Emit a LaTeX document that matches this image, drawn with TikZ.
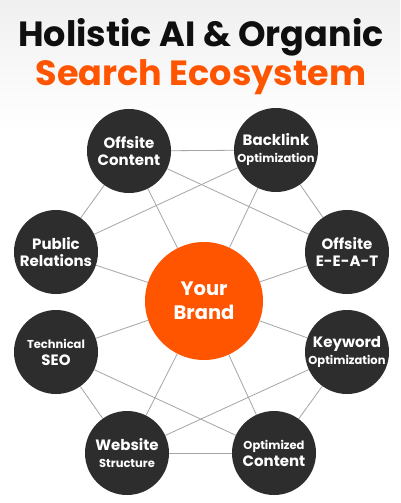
\documentclass[tikz,border=0pt]{standalone}
\usepackage{fontspec}
\setmainfont{Poppins}
\usetikzlibrary{positioning}
\definecolor{brandorange}{RGB}{255,85,0}
\definecolor{hubdark}{RGB}{45,45,45}
\definecolor{linkgray}{RGB}{165,165,165}
\definecolor{titleblack}{RGB}{15,15,15}
\pgfdeclarelayer{back}
\pgfdeclarelayer{edges}
\pgfsetlayers{back,edges,main}
\newcommand{\bigline}[1]{{\fontsize{15}{17}\selectfont #1}}
\newcommand{\smallline}[1]{{\fontsize{11.5}{17}\selectfont #1}}

\begin{document}
\begin{tikzpicture}[x=1pt,y=-1pt,
  hub/.style={circle,fill=hubdark,minimum size=84pt,inner sep=0pt,
    text=white,font=\bfseries\fontsize{10}{17}\selectfont,align=center},
  brand/.style={circle,fill=brandorange,minimum size=118pt,inner sep=0pt,
    text=white,font=\bfseries\fontsize{19.5}{24}\selectfont,align=center},
  link/.style={draw=linkgray,line width=0.8pt}]
  \useasboundingbox (0,0) rectangle (400,503);
  % Backdrop
  \begin{pgfonlayer}{back}
    \fill[white] (0,0) rectangle (400,503);
    \shade[top color=gray!12,bottom color=white] (0,0) rectangle (400,130);
  \end{pgfonlayer}
  % Title
  \node[font=\bfseries\fontsize{35}{40}\selectfont,text=titleblack] (title) at (201,37) {Holistic AI \& Organic};
  \node[font=\bfseries\fontsize{35}{40}\selectfont,text=brandorange] (subtitle) at (201,77) {Search Ecosystem};
  % Center and ring
  \node[brand] (yb) at (204,301) {Your\\Brand};
  \node[hub] (oc) at (129,151) {\bigline{Offsite}\\\bigline{Content}};
  \node[hub] (bo) at (276,150) {\bigline{Backlink}\\\smallline{Optimization}};
  \node[hub] (pr) at (56,252) {\bigline{Public}\\\bigline{Relations}};
  \node[hub] (ee) at (347,252) {\bigline{Offsite}\\\bigline{E-E-A-T}};
  \node[hub] (ts) at (56,352) {\smallline{Technical}\\\bigline{SEO}};
  \node[hub] (ko) at (347,352) {\bigline{Keyword}\\\smallline{Optimization}};
  \node[hub] (ws) at (127,453) {\bigline{Website}\\\smallline{Structure}};
  \node[hub] (co) at (274,453) {\smallline{Optimized}\\\bigline{Content}};
  % Links
  \begin{pgfonlayer}{edges}
    \foreach \a/\b in {oc/bo,oc/pr,bo/ee,ts/ws,ko/co,ws/co,
                       oc/ee,bo/pr,ts/co,ko/ws,
                       oc/yb,bo/yb,pr/yb,ee/yb,ts/yb,ko/yb,ws/yb,co/yb}
      \draw[link] (\a) -- (\b);
  \end{pgfonlayer}
\end{tikzpicture}
\end{document}
